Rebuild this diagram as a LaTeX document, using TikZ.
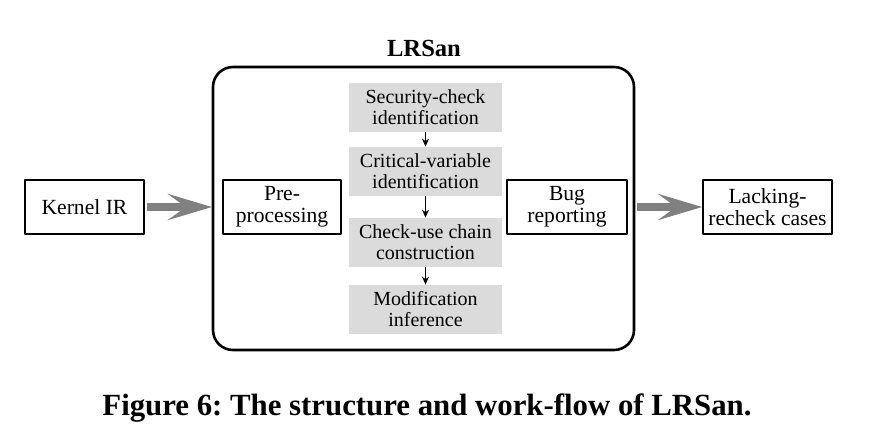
\documentclass[tikz,border=0pt]{standalone}
\usepackage{fontspec}
\setmainfont{Liberation Serif}
\usetikzlibrary{arrows.meta}
\begin{document}
\begin{tikzpicture}[x=0.5pt,y=-0.5pt,line join=round,
    box/.style={draw,line width=0.8pt,minimum height=27pt,align=center,inner sep=0pt,font=\fontsize{10.8}{11}\selectfont},
    stage/.style={fill=black!14,minimum width=76.5pt,minimum height=24.5pt,align=center,inner sep=0pt,font=\fontsize{10}{10.5}\selectfont},
    fat/.style={draw=black!50,line width=4pt,-{Stealth[length=22pt,width=13pt,inset=9pt]}},
    thin/.style={-{Stealth[length=4pt,width=3.5pt]},line width=0.6pt}]
    \useasboundingbox (0,0) rectangle (871,430);
    % outer frame
    \draw[line width=1.3pt,rounded corners=10pt] (213,67) rectangle (634,350);
    \node[font=\fontsize{12.3}{13}\bfseries] (title) at (424,48) {LRSan};
    \node[box,minimum width=59.5pt] (kir) at (84.5,207) {Kernel IR};
    \node[box,minimum width=59pt] (pre) at (282,207) {Pre-\\processing};
    \node[box,minimum width=60pt] (bug) at (567,207) {Bug\\reporting};
    \node[box,minimum width=64.5pt] (lack) at (767.5,207) {Lacking-\\recheck cases};
    \coordinate (in) at (212,207);
    \coordinate (out) at (637,207);
    % analysis stages
    \node[stage] (sec) at (425.5,107.5) {Security-check\\identification};
    \node[stage] (crit) at (425.5,171.5) {Critical-variable\\identification};
    \node[stage] (chain) at (425.5,242.5) {Check-use chain\\construction};
    \node[stage] (mod) at (425.5,309.5) {Modification\\inference};
    \draw[thin] (sec) -- (crit);
    \draw[thin] (crit) -- (chain);
    \draw[thin] (chain) -- (mod);
    \draw[fat] (kir.east) ++(2,0) -- (in);
    \draw[fat] (out) -- (lack.west);
    \node[anchor=base,font=\fontsize{15.4}{16}\bfseries\frenchspacing] (cap) at (427,415) {Figure 6: The structure and work-flow of LRSan.};
\end{tikzpicture}
\end{document}
